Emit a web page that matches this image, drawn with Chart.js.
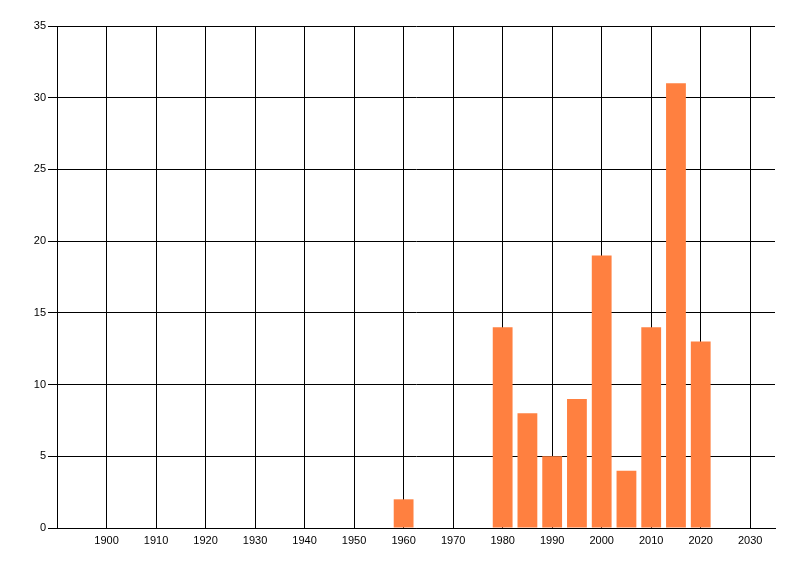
<!DOCTYPE html>
<html>
<head>
<meta charset="utf-8">
<script src="https://cdn.jsdelivr.net/npm/chart.js@4/dist/chart.umd.min.js"></script>
<style>
  html, body { margin: 0; padding: 0; background: #fff; }
  #wrap { width: 800px; height: 576px; }
</style>
</head>
<body>
<div id="wrap"><canvas id="yearChart"></canvas></div>
<script>
// Counts per 5-year bucket
const years = [1960, 1980, 1985, 1990, 1995, 2000, 2005, 2010, 2015, 2020];
const counts = [2, 14, 8, 5, 9, 19, 4, 14, 31, 13];

const xTicks = [1900, 1910, 1920, 1930, 1940, 1950, 1960, 1970, 1980, 1990, 2000, 2010, 2020, 2030];
const yTicks = [0, 5, 10, 15, 20, 25, 30, 35];

const points = years.map((y, i) => ({ x: y, y: counts[i] }));

Chart.defaults.font.family = '"Liberation Sans", Arial, sans-serif';
Chart.defaults.font.size = 11;
Chart.defaults.color = '#000';

const ctx = document.getElementById('yearChart').getContext('2d');
const yearChart = new Chart(ctx, {
    type: 'bar',
    data: {
        datasets: [{
            data: points,
            backgroundColor: '#FF8040',
            borderWidth: 0,
            barPercentage: 0.8,
            categoryPercentage: 1.0
        }]
    },
    options: {
        responsive: true,
        maintainAspectRatio: false,
        animation: false,
        devicePixelRatio: 1,
        layout: {
            padding: { top: 26, right: 25, left: 0, bottom: 0 }
        },
        plugins: {
            legend: { display: false },
            tooltip: { enabled: false }
        },
        scales: {
            x: {
                type: 'linear',
                min: 1890,
                max: 2035,
                offset: false,
                afterBuildTicks: scale => {
                    scale.ticks = xTicks.map(v => ({ value: v }));
                },
                afterFit: scale => { scale.height = 48; },
                ticks: {
                    padding: 6,
                    maxRotation: 0,
                    callback: v => String(v)
                },
                grid: {
                    offset: false,
                    color: '#000',
                    lineWidth: 1,
                    drawTicks: false
                },
                border: { color: '#000', width: 1 }
            },
            y: {
                min: 0,
                max: 35,
                afterBuildTicks: scale => {
                    scale.ticks = yTicks.map(v => ({ value: v }));
                },
                afterFit: scale => { scale.width = 57; },
                ticks: {
                    padding: 2
                },
                grid: {
                    color: '#000',
                    lineWidth: 1,
                    tickLength: 9
                },
                border: { color: '#000', width: 1 }
            }
        }
    }
});
</script>
</body>
</html>
